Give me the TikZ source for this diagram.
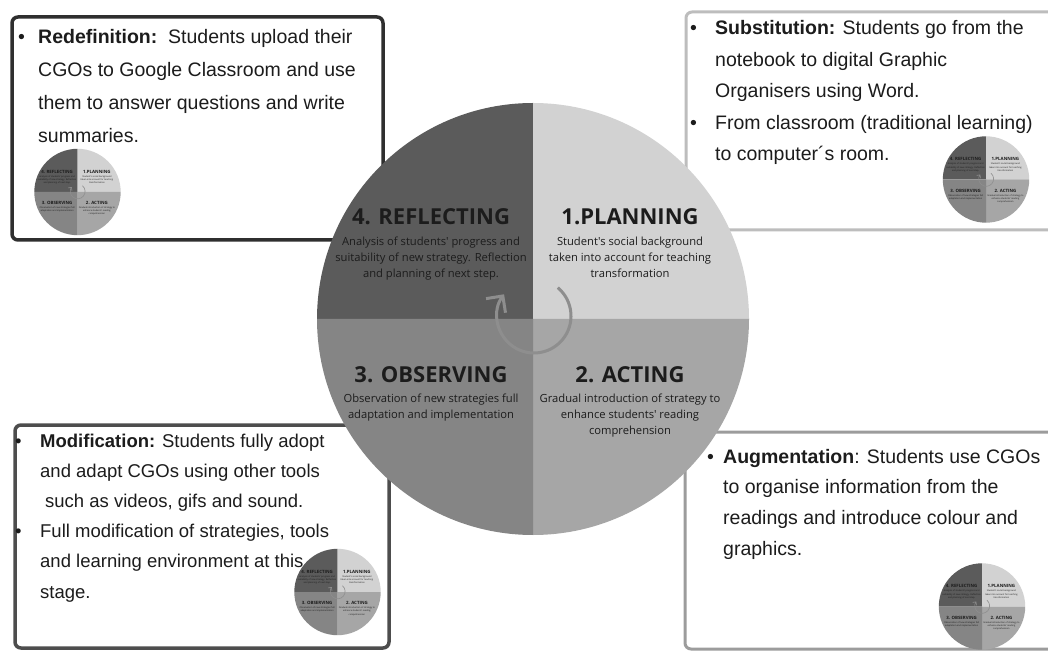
\documentclass[tikz,border=0pt]{standalone}
\usepackage{fontspec}
\setmainfont{Liberation Sans}
\newfontfamily\wheelfont{Open Sans}
\usetikzlibrary{arrows.meta}
\definecolor{reflectgray}{HTML}{5B5B5B}
\definecolor{plangray}{HTML}{D2D2D2}
\definecolor{observegray}{HTML}{858585}
\definecolor{actgray}{HTML}{A6A6A6}
\definecolor{loopgray}{HTML}{8E8E8E}
\definecolor{inkgray}{HTML}{1C1C1C}
\definecolor{framedark}{HTML}{2F2F2F}
\definecolor{framemid}{HTML}{4D4D4D}
\definecolor{framelight}{HTML}{BDBDBD}
\definecolor{framesoft}{HTML}{9C9C9C}
\newcommand{\samrbullet}[1]{\makebox[#1][l]{•}}
\tikzset{
  phasetitle/.style={
    anchor=base,
    inner sep=0pt,
    text=inkgray,
    font=\wheelfont\bfseries\fontsize{22}{26}\selectfont
  },
  phasenote/.style={
    anchor=base,
    inner sep=0pt,
    text=inkgray,
    font=\wheelfont\fontsize{11.2}{16}\selectfont
  },
  samrframe/.style={
    line width=3.5pt,
    rounded corners=6pt
  },
  samrtext/.style={
    anchor=base west,
    inner sep=0pt,
    text=inkgray,
    font=\fontsize{19.5}{#1}\selectfont
  },
  pics/phasewheel/.style={code={
    \fill[reflectgray] (0,0) -- (-216,0) arc[start angle=180,end angle=90,radius=216] -- cycle;
    \fill[plangray] (0,0) -- (0,216) arc[start angle=90,end angle=0,radius=216] -- cycle;
    \fill[actgray] (0,0) -- (216,0) arc[start angle=0,end angle=-90,radius=216] -- cycle;
    \fill[observegray] (0,0) -- (0,-216) arc[start angle=-90,end angle=-180,radius=216] -- cycle;
    \draw[loopgray,line width=#1,-{Straight Barb[length=0pt 4,width=0pt 8]}]
      (1,3) ++(50:37) arc[start angle=50,end angle=-216,radius=37];
    \node[phasetitle] (-reflect) at (-102,94) {4. REFLECTING};
    \node[phasenote] (-reflectnote) at (-102,73) {\begin{tabular}[t]{@{}c@{}}
      Analysis of students' progress and\\
      suitability of new strategy. Reflection\\
      and planning of next step.\end{tabular}};
    \node[phasetitle] (-plan) at (97,94) {1.PLANNING};
    \node[phasenote] (-plannote) at (97,73) {\begin{tabular}[t]{@{}c@{}}
      Student's social background\\
      taken into account for teaching\\
      transformation\end{tabular}};
    \node[phasetitle] (-observe) at (-102,-63) {3. OBSERVING};
    \node[phasenote] (-observenote) at (-102,-83) {\begin{tabular}[t]{@{}c@{}}
      Observation of new strategies full\\
      adaptation and implementation\end{tabular}};
    \node[phasetitle] (-act) at (97,-63) {2. ACTING};
    \node[phasenote] (-actnote) at (97,-83) {\begin{tabular}[t]{@{}c@{}}
      Gradual introduction of strategy to\\
      enhance students' reading\\
      comprehension\end{tabular}};
  }}
}

\begin{document}
\begin{tikzpicture}[x=1pt,y=1pt]
\path[use as bounding box,fill=white] (0,0) rectangle (1048,651);
\clip (0,0) rectangle (1048,651);

% SAMR frames
\draw[samrframe,draw=framedark] (12,411) rectangle (383,634);
\draw[samrframe,draw=framelight,line width=3pt] (686,421) rectangle (1060,639);
\draw[samrframe,draw=framemid] (15,3) rectangle (389,226);
\draw[samrframe,draw=framesoft,line width=3pt] (685,2) rectangle (1060,219);

\node[samrtext=33] (redef) at (18,607) {\begin{tabular}[t]{@{}l@{}l@{}}
  \samrbullet{20pt} & \textbf{Redefinition:}\ \ Students upload their\\
  & CGOs to Google Classroom and use\\
  & them to answer questions and write\\
  & summaries.\end{tabular}};
\node[samrtext=31.5] (subst) at (690,616) {\begin{tabular}[t]{@{}l@{}l@{}}
  \samrbullet{25pt} & \textbf{Substitution:} Students go from the\\
  & notebook to digital Graphic\\
  & Organisers using Word.\\
  \samrbullet{25pt} & From classroom (traditional learning)\\
  & to computer´s room.\end{tabular}};
\node[samrtext=30.2,font=\fontsize{18.5}{30.2}\selectfont] (modif) at (15,204) {\begin{tabular}[t]{@{}l@{}l@{}}
  \samrbullet{25pt} & \textbf{Modification:} Students fully adopt\\
  & and adapt CGOs using other tools\\
  & \hspace{5pt}such as videos, gifs and sound.\\
  \samrbullet{25pt} & Full modification of strategies, tools\\
  & and learning environment at this\\
  & stage.\end{tabular}};
\node[samrtext=30.7] (augm) at (707,188) {\begin{tabular}[t]{@{}l@{}l@{}}
  \samrbullet{16pt} & \textbf{Augmentation}: Students use CGOs\\
  & to organise information from the\\
  & readings and introduce colour and\\
  & graphics.\end{tabular}};

% small copies of the cycle
\pic[scale=0.2,transform shape] (redefwheel) at (77.5,459) {phasewheel=0.6pt};
\pic[scale=0.2,transform shape] (substwheel) at (986,471.5) {phasewheel=0.6pt};
\pic[scale=0.2,transform shape] (modifwheel) at (337.5,59) {phasewheel=0.6pt};
\pic[scale=0.2,transform shape] (augmwheel) at (982,44.5) {phasewheel=0.6pt};

% main cycle
\pic (wheel) at (533,332) {phasewheel=3pt};
\end{tikzpicture}
\end{document}
